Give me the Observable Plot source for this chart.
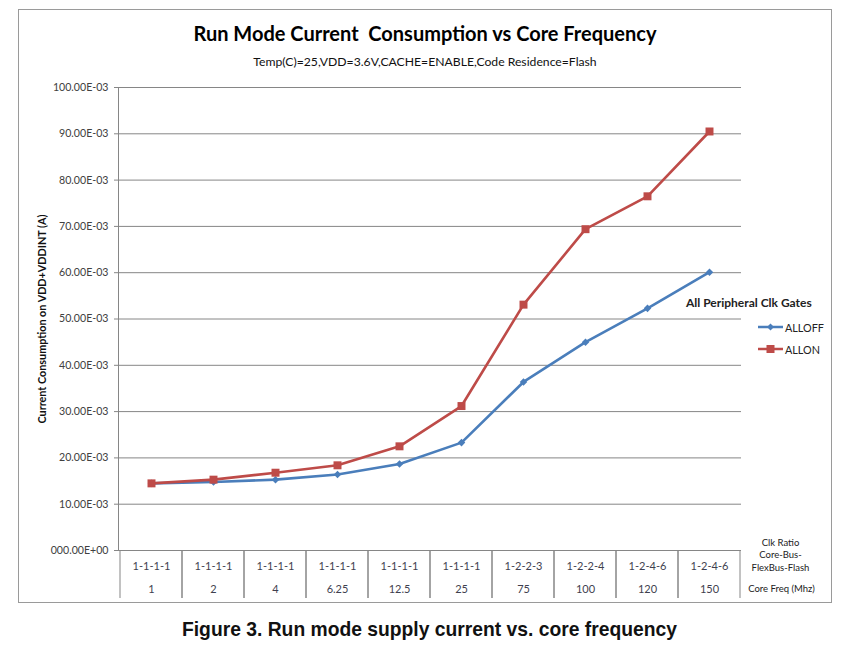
<!DOCTYPE html>
<html><head><meta charset="utf-8">
<script src="https://cdn.jsdelivr.net/npm/d3@7"></script>
<script src="https://cdn.jsdelivr.net/npm/@observablehq/plot@0.6"></script>
<style>
body{margin:0;background:#fff;}
#wrap{position:relative;width:855px;height:650px;background:#fff;overflow:hidden;font-family:Lato,"Open Sans",sans-serif;}
#frame{position:absolute;left:18px;top:9px;width:814px;height:594px;border:1px solid #9a9a9a;box-sizing:border-box;}
.abs{position:absolute;}
#title{left:18px;width:814px;top:20px;text-align:center;font-weight:bold;font-size:20px;color:#000;line-height:26px;}
#subtitle{left:18px;width:814px;top:54px;text-align:center;font-size:12.2px;color:#111;line-height:16px;}
#caption{left:0;width:855px;top:618px;text-align:center;font-family:"Liberation Sans",Arial,sans-serif;font-weight:bold;font-size:19.3px;color:#111;line-height:24px;padding-left:2px;}
#legend{left:686px;top:294px;width:160px;font-size:10.8px;color:#222;}
#legend .hd{font-weight:bold;font-size:12px;line-height:18px;margin-bottom:4px;}
#legend .row{display:flex;align-items:center;height:22px;margin-left:72px;}
#legend svg{margin-right:2px;}
#main,#table{position:absolute;left:0;}
#main{top:0;}
#table{top:550px;}
</style>
</head><body>
<div id="wrap">
  <div id="frame"></div>
  <div id="title" class="abs">Run Mode Current&nbsp; Consumption vs Core Frequency</div>
  <div id="subtitle" class="abs">Temp(C)=25,VDD=3.6V,CACHE=ENABLE,Code Residence=Flash</div>
  <div id="main"></div>
  <div id="table"></div>
  <div id="legend" class="abs"></div>
  <div id="caption" class="abs">Figure 3. Run mode supply current vs. core frequency</div>
</div>
<script>
// ---- data ----
const coreFreq = ["1", "2", "4", "6.25", "12.5", "25", "75", "100", "120", "150"];
const clkRatio = ["1-1-1-1", "1-1-1-1", "1-1-1-1", "1-1-1-1", "1-1-1-1", "1-1-1-1", "1-2-2-3", "1-2-2-4", "1-2-4-6", "1-2-4-6"];
const allOff = [0.0145, 0.0148, 0.0153, 0.0164, 0.0187, 0.0233, 0.0364, 0.0450, 0.0523, 0.0601];
const allOn  = [0.0145, 0.0153, 0.0168, 0.0184, 0.0225, 0.0312, 0.0531, 0.0694, 0.0765, 0.0905];
const seriesNames = ["ALLOFF", "ALLON"];
const seriesColors = ["#4A7EBB", "#BE4B48"];
const yTicks = [0, 0.01, 0.02, 0.03, 0.04, 0.05, 0.06, 0.07, 0.08, 0.09, 0.1];
const yTickLabels = ["000.00E+00", "10.00E-03", "20.00E-03", "30.00E-03", "40.00E-03", "50.00E-03", "60.00E-03", "70.00E-03", "80.00E-03", "90.00E-03", "100.00E-03"];
const yLabel = "Current Consumption on VDD+VDDINT (A)";
const legendTitle = "All Peripheral Clk Gates";
const rowHeader = ["Clk Ratio", "Core-Bus-", "FlexBus-Flash"];
const freqHeader = "Core Freq (Mhz)";

const offRows = coreFreq.map((f, i) => ({freq: f, value: allOff[i], series: "ALLOFF"}));
const onRows  = coreFreq.map((f, i) => ({freq: f, value: allOn[i], series: "ALLON"}));

const grid = "#868686";
const font = "Lato, 'Open Sans', sans-serif";

const main = Plot.plot({
  width: 855, height: 600,
  marginLeft: 118, marginRight: 114, marginTop: 87, marginBottom: 50,
  style: {background: "transparent", overflow: "visible", fontFamily: font, fontSize: "10px"},
  x: {type: "band", domain: coreFreq, padding: 0, axis: null},
  y: {domain: [0, 0.1], axis: null},
  marks: [
    Plot.gridY(yTicks, {stroke: grid, strokeOpacity: 1}),
    Plot.axisY(yTicks, {tickSize: 4, tickPadding: 6, stroke: grid, fill: "#404040", label: null,
      tickFormat: d => yTickLabels[yTicks.indexOf(d)], fontSize: 10.6}),
    Plot.frame({anchor: "left", stroke: grid}),
    Plot.text([yLabel], {frameAnchor: "left", rotate: -90, dx: -76, textAnchor: "middle", lineAnchor: "middle",
      fontWeight: "bold", fontSize: 10.8, fill: "#111"}),
    Plot.line(offRows, {x: "freq", y: "value", stroke: seriesColors[0], strokeWidth: 2.6}),
    Plot.dot(offRows, {x: "freq", y: "value", symbol: "diamond2", r: 3.4, fill: seriesColors[0], stroke: "none"}),
    Plot.line(onRows, {x: "freq", y: "value", stroke: seriesColors[1], strokeWidth: 2.6}),
    Plot.dot(onRows, {x: "freq", y: "value", symbol: "square", r: 4.5, fill: seriesColors[1], stroke: "none"}),
    Plot.text([rowHeader.join("\n")], {frameAnchor: "bottom-right", dx: 39, dy: 4, textAnchor: "middle", lineAnchor: "middle",
      lineHeight: 1.3, fontSize: 9.5, fill: "#222"}),
    Plot.text([freqHeader], {frameAnchor: "bottom-right", dx: 40, dy: 38, textAnchor: "middle", lineAnchor: "middle",
      fontSize: 9.5, fill: "#222"})
  ]
});
document.getElementById("main").appendChild(main);

const table = Plot.plot({
  width: 855, height: 48,
  marginLeft: 118, marginRight: 114, marginTop: 0, marginBottom: 0,
  style: {background: "transparent", fontFamily: font, fontSize: "10px"},
  x: {type: "band", domain: coreFreq, padding: 0, axis: null},
  marks: [
    Plot.cell(coreFreq, {x: d => d, fill: "none", stroke: grid, insetTop: -4, insetBottom: -4, insetLeft: 0, insetRight: 0}),
    Plot.text(coreFreq, {x: d => d, text: (d, i) => clkRatio[i], frameAnchor: "top", lineAnchor: "middle", dy: 16,
      fill: "#3f3f4f", fontSize: 11}),
    Plot.text(coreFreq, {x: d => d, text: d => d, frameAnchor: "bottom", lineAnchor: "middle", dy: -9,
      fill: "#3f3f4f", fontSize: 11})
  ]
});
document.getElementById("table").appendChild(table);

// legend
const lg = document.getElementById("legend");
const hd = document.createElement("div");
hd.className = "hd"; hd.textContent = legendTitle; lg.appendChild(hd);
seriesNames.forEach((name, i) => {
  const row = document.createElement("div"); row.className = "row";
  const sym = i === 0
    ? `<polygon points="12.5,1.5 16,5 12.5,8.5 9,5" fill="${seriesColors[i]}"/>`
    : `<rect x="8.5" y="1" width="8" height="8" fill="${seriesColors[i]}"/>`;
  row.innerHTML = `<svg width="25" height="10"><line x1="0" x2="25" y1="5" y2="5" stroke="${seriesColors[i]}" stroke-width="2.5"/>${sym}</svg><span>${name}</span>`;
  lg.appendChild(row);
});
</script>
</body></html>
